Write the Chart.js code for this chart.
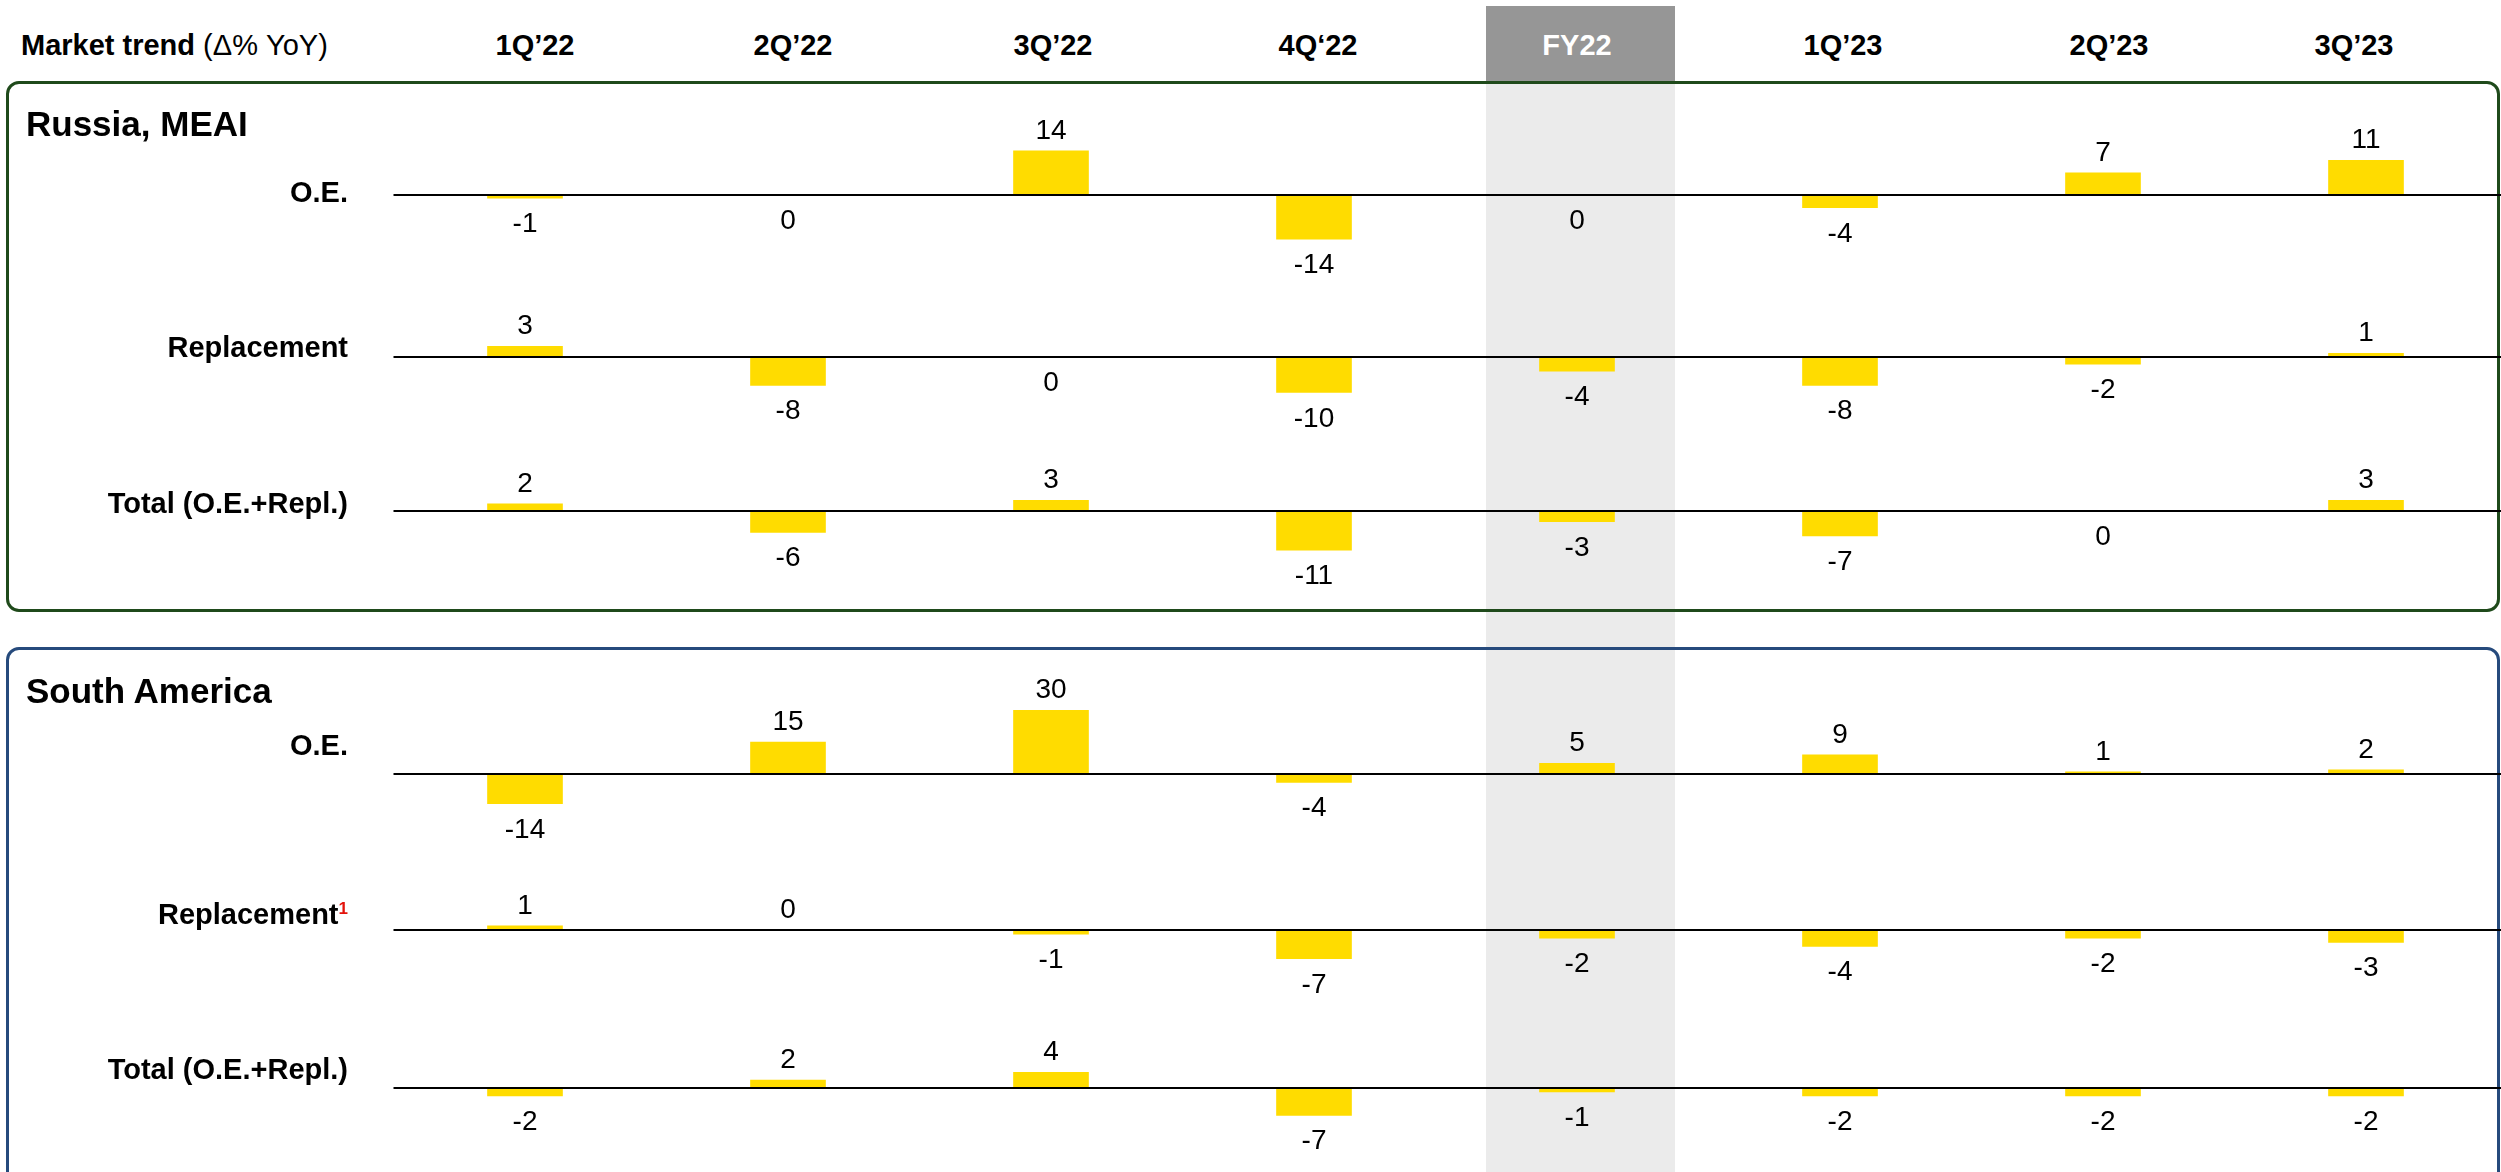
<!DOCTYPE html>
<html>
<head>
<meta charset="utf-8">
<script src="https://cdn.jsdelivr.net/npm/chart.js@4.4.1/dist/chart.umd.min.js"></script>
<style>
  html, body { margin: 0; padding: 0; background: #fff; }
  body {
    width: 2501px; height: 1172px; overflow: hidden; position: relative;
    font-family: "Liberation Sans", Arial, Helvetica, sans-serif; color: #000;
  }
  .abs { position: absolute; }
  #band { background: #ebebeb; top: 81px; height: 1091px; z-index: 0; }
  #fyHead { background: #969696; top: 6px; height: 75px; z-index: 0; }
  .box {
    position: absolute; left: 6px; width: 2494px; box-sizing: border-box;
    border: 3px solid; border-radius: 13px; z-index: 1;
  }
  #boxRussia { top: 81px; height: 531px; border-color: #1f4a1b; }
  #boxSA { top: 647px; height: 620px; border-color: #264a7c; }
  canvas { position: absolute; left: 0; z-index: 2; }
  .txt { position: absolute; z-index: 3; white-space: nowrap; line-height: 1; }
  .head { font-size: 29px; font-weight: bold; text-align: center; width: 220px; top: 30.5px; }
  .title { font-size: 35px; font-weight: bold; left: 26px; }
  .rowLabel { font-size: 29px; font-weight: bold; text-align: right; left: 0; width: 348px; }
  .sup { font-size: 17px; color: #e3120b; vertical-align: 10px; }
</style>
</head>
<body>
<div id="band" class="abs"></div>
<div id="fyHead" class="abs"></div>
<div id="boxRussia" class="box"></div>
<div id="boxSA" class="box"></div>

<div class="txt" style="left:21px; top:30.5px; font-size:29px;"><b>Market trend</b> (&Delta;% YoY)</div>
<div class="txt title" style="top:106px;">Russia, MEAI</div>
<div class="txt title" style="top:673px;">South America</div>

<script>
// Period columns
const categories = ["1Q’22", "2Q’22", "3Q’22", "4Q‘22", "FY22", "1Q’23", "2Q’23", "3Q’23"];
const highlightCategory = "FY22";

// Market trend, Δ% YoY — Russia, MEAI
const russiaOE    = [-1, 0, 14, -14, 0, -4, 7, 11];
const russiaRepl  = [3, -8, 0, -10, -4, -8, -2, 1];
const russiaTotal = [2, -6, 3, -11, -3, -7, 0, 3];

// Market trend, Δ% YoY — South America
const southAmericaOE    = [-14, 15, 30, -4, 5, 9, 1, 2];
const southAmericaRepl  = [1, 0, -1, -7, -2, -4, -2, -3];
const southAmericaTotal = [-2, 2, 4, -7, -1, -2, -2, -2];

// Row labels
const rowNames = ["O.E.", "Replacement", "Total (O.E.+Repl.)"];

// Row layout: zero-line position, vertical scale, label baseline, zero labels drawn above the line
const rows = [
  { values: russiaOE,          name: rowNames[0], zeroY: 195,  pxPerUnit: 3.15, labelBase: 202,  zeroAbove: [] },
  { values: russiaRepl,        name: rowNames[1], zeroY: 357,  pxPerUnit: 3.55, labelBase: 357,  zeroAbove: [] },
  { values: russiaTotal,       name: rowNames[2], zeroY: 511,  pxPerUnit: 3.55, labelBase: 513,  zeroAbove: [] },
  { values: southAmericaOE,    name: rowNames[0], zeroY: 774,  pxPerUnit: 2.12, labelBase: 755,  zeroAbove: [] },
  { values: southAmericaRepl,  name: rowNames[1], zeroY: 930,  pxPerUnit: 4.1,  labelBase: 924,  zeroAbove: [1], note: "1" },
  { values: southAmericaTotal, name: rowNames[2], zeroY: 1088, pxPerUnit: 3.9,  labelBase: 1079, zeroAbove: [] }
];

// Small horizontal nudges for the column headings
const headerNudge = [10, 5, 2, 4, 0, 3, 6, -12];

const CANVAS_W = 2501, HALF_H = 100;
const BAR_COLOR = "#FFDC00";
const VALUE_FONT = '28px "Liberation Sans", Arial, Helvetica, sans-serif';

// Zero line plus value labels for each row
const rowDecor = {
  id: "rowDecor",
  afterDatasetsDraw(chart, args, opts) {
    const ctx = chart.ctx;
    const y0 = chart.scales.y.getPixelForValue(0);
    ctx.save();
    ctx.strokeStyle = "#000";
    ctx.lineWidth = 2.2;
    ctx.beginPath();
    ctx.moveTo(chart.chartArea.left, y0);
    ctx.lineTo(chart.width, y0);
    ctx.stroke();

    ctx.font = VALUE_FONT;
    ctx.fillStyle = "#000";
    ctx.textAlign = "center";
    ctx.textBaseline = "alphabetic";
    const values = chart.data.datasets[0].data;
    chart.getDatasetMeta(0).data.forEach((bar, i) => {
      const v = values[i];
      const above = v > 0 || (v === 0 && opts.zeroAbove.includes(i));
      const y = above ? Math.min(bar.y, bar.base) - 12 : Math.max(bar.y, bar.base) + 34;
      ctx.fillText(String(v), bar.x, y);
    });
    ctx.restore();
  }
};

const charts = rows.map(row => {
  const canvas = document.createElement("canvas");
  canvas.width = CANVAS_W;
  canvas.height = HALF_H * 2;
  canvas.style.width = CANVAS_W + "px";
  canvas.style.height = (HALF_H * 2) + "px";
  canvas.style.top = (row.zeroY - HALF_H) + "px";
  document.body.appendChild(canvas);

  const lim = HALF_H / row.pxPerUnit;
  return new Chart(canvas, {
    type: "bar",
    data: {
      labels: categories,
      datasets: [{
        data: row.values,
        backgroundColor: BAR_COLOR,
        borderWidth: 0,
        barThickness: 75
      }]
    },
    options: {
      responsive: false,
      animation: false,
      devicePixelRatio: 1,
      events: [],
      layout: { padding: { left: 393.5, right: 3.5, top: 0, bottom: 0 } },
      plugins: {
        legend: { display: false },
        tooltip: { enabled: false },
        rowDecor: { zeroAbove: row.zeroAbove }
      },
      scales: {
        x: { display: false, offset: true },
        y: { display: false, min: -lim, max: lim }
      }
    },
    plugins: [rowDecor]
  });
});

// Row labels
rows.forEach(row => {
  const d = document.createElement("div");
  d.className = "txt rowLabel";
  d.style.top = (row.labelBase - 24.5) + "px";
  d.textContent = row.name;
  if (row.note) {
    const s = document.createElement("span");
    s.className = "sup";
    s.textContent = row.note;
    d.appendChild(s);
  }
  document.body.appendChild(d);
});

// Column headers and highlighted column, placed from the category scale
const xScale = charts[0].scales.x;
categories.forEach((c, i) => {
  const x = xScale.getPixelForValue(i);
  const d = document.createElement("div");
  d.className = "txt head";
  d.style.left = (x - 110 + headerNudge[i]) + "px";
  d.textContent = c;
  if (c === highlightCategory) {
    d.style.color = "#fff";
    const left = Math.round(x - 91) + "px";
    document.getElementById("band").style.left = left;
    document.getElementById("band").style.width = "189px";
    document.getElementById("fyHead").style.left = left;
    document.getElementById("fyHead").style.width = "189px";
  }
  document.body.appendChild(d);
});
</script>
</body>
</html>
